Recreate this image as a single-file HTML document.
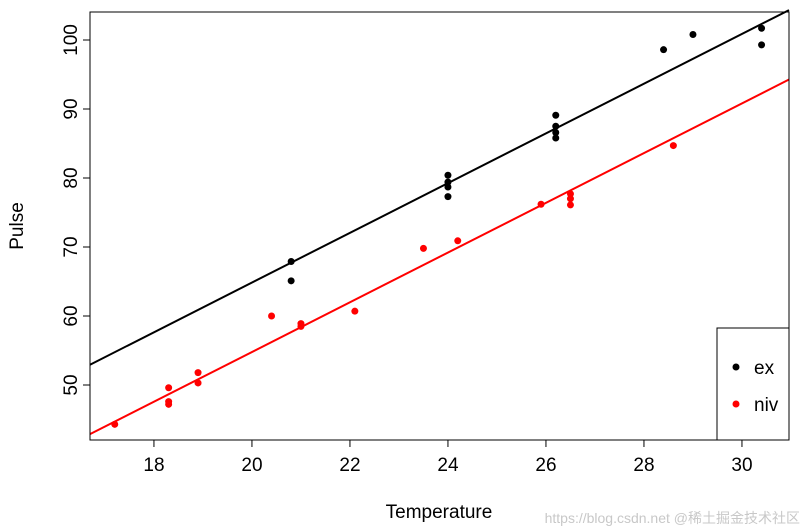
<!DOCTYPE html>
<html><head><meta charset="utf-8"><style>
body{margin:0;background:#fff}
svg{display:block;font-family:"Liberation Sans",Arial,sans-serif}
</style></head><body>
<svg id="chart" width="806" height="532" viewBox="0 0 806 532">
<g id="axes"></g><g id="marks"></g>
<rect x="90" y="12" width="699" height="428" fill="none" stroke="#000" stroke-width="1"/>
<g>
<rect x="717" y="328" width="72" height="112" fill="#fff" stroke="#000"/>
<circle cx="736" cy="367" r="3.5" fill="#000"/>
<text x="754" y="374" font-size="19">ex</text>
<circle cx="736" cy="404" r="3.5" fill="#f00"/>
<text x="754" y="411" font-size="19">niv</text>
</g>
<text x="439" y="518" font-size="19" text-anchor="middle">Temperature</text>
<text transform="translate(23,226) rotate(-90)" font-size="19" text-anchor="middle">Pulse</text>
<text x="800" y="523" font-size="14" fill="#c8c8c8" text-anchor="end" font-family="Liberation Sans, Noto Sans CJK SC, sans-serif">https://blog.csdn.net @稀土掘金技术社区</text>
</svg>
<script>
const exTemp=[20.8,20.8,24.0,24.0,24.0,24.0,26.2,26.2,26.2,26.2,28.4,29.0,30.4,30.4];
const exPulse=[67.9,65.1,77.3,78.7,79.4,80.4,85.8,86.6,87.5,89.1,98.6,100.8,99.3,101.7];
const nivTemp=[17.2,18.3,18.3,18.3,18.9,18.9,20.4,21.0,21.0,22.1,23.5,24.2,25.9,26.5,26.5,26.5,28.6];
const nivPulse=[44.3,47.2,47.6,49.6,50.3,51.8,60.0,58.5,58.9,60.7,69.8,70.9,76.2,76.1,77.0,77.7,84.7];
const xTicks=[18,20,22,24,26,28,30];
const yTicks=[50,60,70,80,90,100];
const slope=3.603, exIntercept=-7.211, nivIntercept=-17.276;
const xMin=16.695,xMax=30.96,yMin=42.03,yMax=104.06;
const L=90,R=789,T=12,B=440;
const sx=v=>L+(v-xMin)/(xMax-xMin)*(R-L);
const sy=v=>B-(v-yMin)/(yMax-yMin)*(B-T);
const NS="http://www.w3.org/2000/svg";
const axes=document.getElementById('axes'),marks=document.getElementById('marks');
function mk(tag,attrs,parent){const e=document.createElementNS(NS,tag);for(const k in attrs)e.setAttribute(k,attrs[k]);parent.appendChild(e);return e;}
mk('line',{x1:sx(18),x2:sx(30),y1:B,y2:B,stroke:'#000'},axes);
xTicks.forEach(t=>{
 const l=mk('line',{x1:sx(t),x2:sx(t),y1:B,y2:B+7,stroke:'#000'},axes);
 
 
 const tx=mk('text',{x:sx(t),y:B+31,'font-size':19,'text-anchor':'middle'},axes);
 tx.textContent=t;
 
 
});
yTicks.forEach(t=>{
 const l=mk('line',{x1:L-7,x2:L,y1:sy(t),y2:sy(t),stroke:'#000'},axes);
 
 
 const tx=mk('text',{transform:`translate(${L-13},${sy(t)}) rotate(-90)`,'font-size':19,'text-anchor':'middle'},axes);
 tx.textContent=t;
 
 
});
mk('line',{x1:L,x2:L,y1:sy(50),y2:sy(100),stroke:'#000'},axes);
function fitLine(b,color,name){
 const l=mk('line',{x1:sx(xMin),y1:sy(b+slope*xMin),x2:sx(xMax),y2:sy(b+slope*xMax),stroke:color,'stroke-width':2},marks);
 
 
}
fitLine(exIntercept,'#000','fit-line-ex');
fitLine(nivIntercept,'#f00','fit-line-niv');
exTemp.forEach((t,i)=>{
 const c=mk('circle',{cx:sx(t),cy:sy(exPulse[i]),r:3.5,fill:'#000'},marks);
 
 
});
nivTemp.forEach((t,i)=>{
 const c=mk('circle',{cx:sx(t),cy:sy(nivPulse[i]),r:3.5,fill:'#f00'},marks);
 
 
});
</script>
</body></html>
